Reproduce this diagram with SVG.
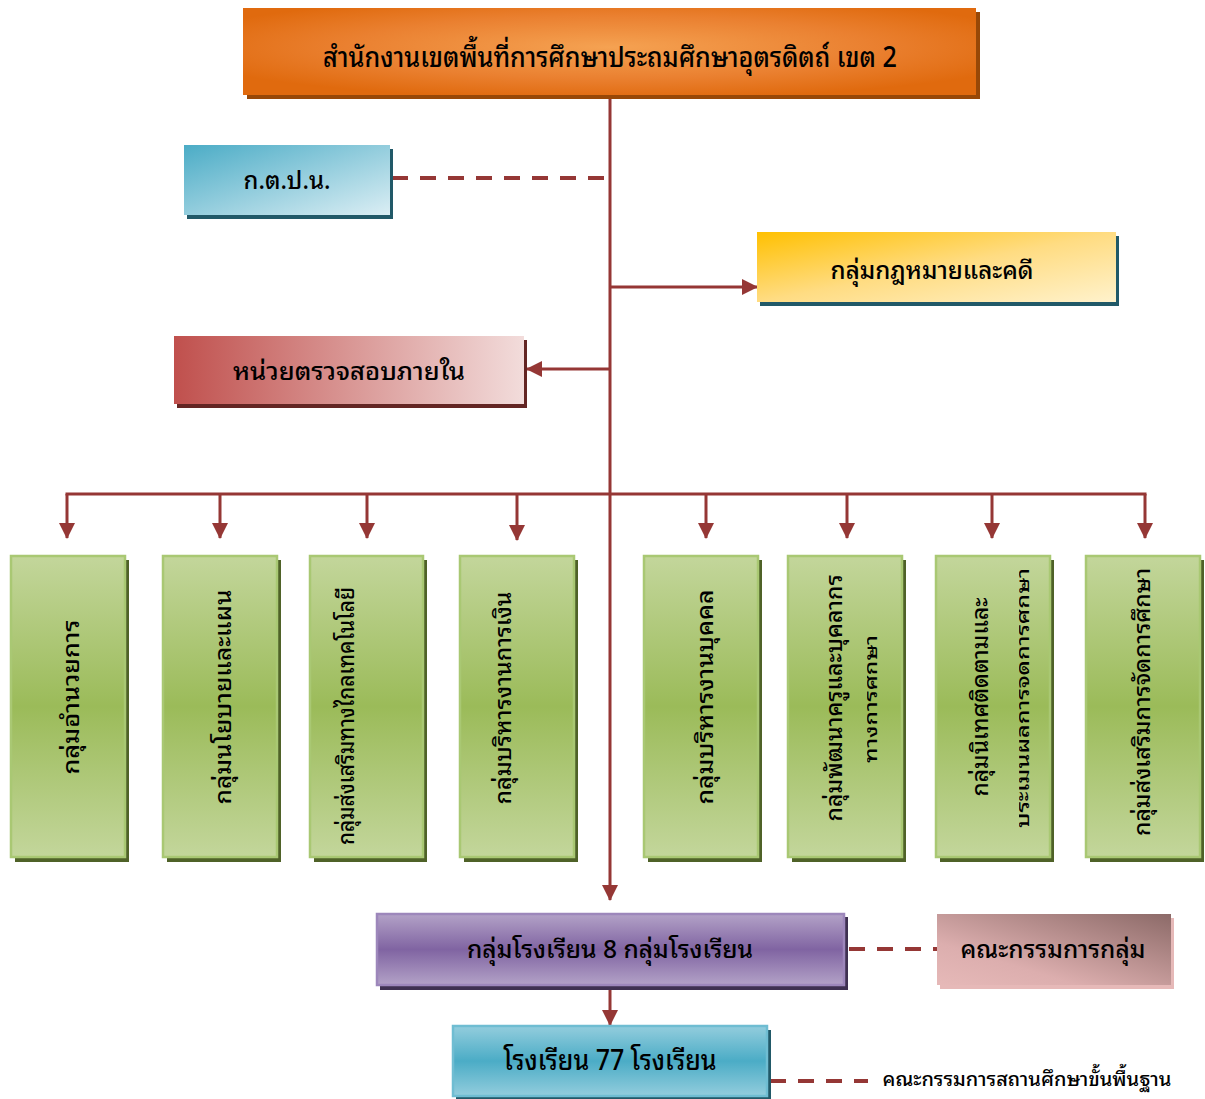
<svg xmlns="http://www.w3.org/2000/svg" width="1205" height="1099" viewBox="0 0 1205 1099">
<defs>
<radialGradient id="gOrange" cx="50%" cy="45%" r="60%" fx="50%" fy="45%">
<stop offset="0" stop-color="#f5a252"/><stop offset="0.6" stop-color="#ea8030"/><stop offset="1" stop-color="#e06a0e"/>
</radialGradient>
<linearGradient id="gTeal" x1="0" y1="0" x2="1" y2="1"><stop offset="0" stop-color="#4bacc6"/><stop offset="1" stop-color="#dbeef4"/></linearGradient>
<linearGradient id="gGold" x1="0" y1="0" x2="1" y2="1"><stop offset="0" stop-color="#ffc000"/><stop offset="0.5" stop-color="#ffdc82"/><stop offset="1" stop-color="#fff2cc"/></linearGradient>
<linearGradient id="gRed" x1="0" y1="0" x2="1" y2="0"><stop offset="0" stop-color="#c0504d"/><stop offset="1" stop-color="#f2dcdb"/></linearGradient>
<linearGradient id="gGreen" x1="0" y1="0" x2="0" y2="1"><stop offset="0" stop-color="#c3d69b"/><stop offset="0.5" stop-color="#9bbb59"/><stop offset="1" stop-color="#c3d69b"/></linearGradient>
<linearGradient id="gPurple" x1="0" y1="0" x2="0" y2="1"><stop offset="0" stop-color="#b3a2c7"/><stop offset="0.5" stop-color="#8064a2"/><stop offset="1" stop-color="#b3a2c7"/></linearGradient>
<linearGradient id="gBlue" x1="0" y1="0" x2="0" y2="1"><stop offset="0" stop-color="#93cddd"/><stop offset="0.5" stop-color="#4bacc6"/><stop offset="1" stop-color="#93cddd"/></linearGradient>
<linearGradient id="gPink" x1="1" y1="0" x2="0" y2="1"><stop offset="0" stop-color="#8c6a68"/><stop offset="0.7" stop-color="#dcaeae"/><stop offset="1" stop-color="#e6b9b8"/></linearGradient>
<marker id="ah" markerUnits="userSpaceOnUse" markerWidth="16" markerHeight="16" viewBox="0 0 16 16" refX="15" refY="8" orient="auto">
<path d="M0,0 L16,8 L0,16 Z" fill="#953735"/>
</marker>
<clipPath id="c6"><rect x="867" y="560" width="30" height="290"/></clipPath>
<clipPath id="c7"><rect x="1019" y="560" width="28" height="290"/></clipPath>
</defs>
<style>
text{font-family:"Noto Sans Thai Looped","Loma","Tahoma","Noto Sans Thai","Noto Sans","DejaVu Sans",sans-serif;font-weight:500;fill:#000;text-anchor:middle}
.t{font-size:25px}
.v{font-size:22px}
.vs{font-size:17px}
.ln{stroke:#953735;stroke-width:3;fill:none}
.ds{stroke:#953735;stroke-width:4;fill:none;stroke-dasharray:16 12}
.gb{fill:url(#gGreen);stroke:#a9c873;stroke-width:2.5}
.gs{fill:#4f6228}
</style>

<g id="connectors">
<line class="ln" x1="610" y1="97" x2="610" y2="900" marker-end="url(#ah)"/>
<line class="ln" x1="610" y1="287" x2="757" y2="287" marker-end="url(#ah)"/>
<line class="ln" x1="610" y1="369" x2="527" y2="369" marker-end="url(#ah)"/>
<line class="ds" x1="392" y1="178" x2="606" y2="178"/>
<line class="ln" x1="65.5" y1="494" x2="1146.5" y2="494"/>
<line class="ln" x1="67" y1="494" x2="67" y2="538" marker-end="url(#ah)"/>
<line class="ln" x1="220" y1="494" x2="220" y2="538" marker-end="url(#ah)"/>
<line class="ln" x1="367" y1="494" x2="367" y2="538" marker-end="url(#ah)"/>
<line class="ln" x1="517" y1="494" x2="517" y2="540" marker-end="url(#ah)"/>
<line class="ln" x1="706" y1="494" x2="706" y2="538" marker-end="url(#ah)"/>
<line class="ln" x1="847" y1="494" x2="847" y2="538" marker-end="url(#ah)"/>
<line class="ln" x1="992" y1="494" x2="992" y2="538" marker-end="url(#ah)"/>
<line class="ln" x1="1145" y1="494" x2="1145" y2="538" marker-end="url(#ah)"/>
<line class="ln" x1="610" y1="987" x2="610" y2="1025" marker-end="url(#ah)"/>
<line class="ds" x1="849" y1="949" x2="937" y2="949"/>
<line class="ds" x1="770" y1="1081" x2="868" y2="1081"/>
</g>

<g id="office">
<rect x="247" y="12" width="733" height="87" fill="#984807"/>
<rect x="243" y="8" width="733" height="87" fill="url(#gOrange)"/>
<text x="610" y="67" textLength="574" lengthAdjust="spacingAndGlyphs" style="font-size:28px">สำนักงานเขตพื้นที่การศึกษาประถมศึกษาอุตรดิตถ์ เขต 2</text>
</g>

<g id="ktpn">
<rect x="187" y="149" width="206" height="70" fill="#215968"/>
<rect x="184" y="145" width="206" height="70" fill="url(#gTeal)"/>
<text class="t" x="287" y="189" textLength="87" lengthAdjust="spacingAndGlyphs">ก.ต.ป.น.</text>
</g>

<g id="legal">
<rect x="760" y="236" width="359" height="70" fill="#215968"/>
<rect x="757" y="232" width="359" height="70" fill="url(#gGold)"/>
<text class="t" x="932" y="279" textLength="203" lengthAdjust="spacingAndGlyphs">กลุ่มกฎหมายและคดี</text>
</g>

<g id="audit">
<rect x="177" y="340" width="350" height="68" fill="#632523"/>
<rect x="174" y="336" width="350" height="68" fill="url(#gRed)"/>
<text class="t" x="349" y="380" textLength="232" lengthAdjust="spacingAndGlyphs">หน่วยตรวจสอบภายใน</text>
</g>

<g id="g1"><rect class="gs" x="15" y="560" width="114" height="302"/><rect class="gb" x="11" y="556" width="114" height="301"/>
<text class="v" transform="translate(73,697) rotate(-90)" y="6" textLength="155" lengthAdjust="spacingAndGlyphs">กลุ่มอำนวยการ</text></g>
<g id="g2"><rect class="gs" x="167" y="560" width="114" height="302"/><rect class="gb" x="163" y="556" width="114" height="301"/>
<text class="v" transform="translate(225,697) rotate(-90)" y="6" textLength="215" lengthAdjust="spacingAndGlyphs">กลุ่มนโยบายและแผน</text></g>
<g id="g3"><rect class="gs" x="314" y="560" width="113" height="302"/><rect class="gb" x="310" y="556" width="113" height="301"/>
<text class="v" transform="translate(348,716) rotate(-90)" y="6" textLength="258" lengthAdjust="spacingAndGlyphs">กลุ่มส่งเสริมทางไกลเทคโนโลยี</text></g>
<g id="g4"><rect class="gs" x="464" y="560" width="114" height="302"/><rect class="gb" x="460" y="556" width="114" height="301"/>
<text class="v" transform="translate(505,698) rotate(-90)" y="6" textLength="213" lengthAdjust="spacingAndGlyphs">กลุ่มบริหารงานการเงิน</text></g>
<g id="g5"><rect class="gs" x="648" y="560" width="114" height="302"/><rect class="gb" x="644" y="556" width="114" height="301"/>
<text class="v" transform="translate(707,697) rotate(-90)" y="6" textLength="215" lengthAdjust="spacingAndGlyphs">กลุ่มบริหารงานบุคคล</text></g>
<g id="g6"><rect class="gs" x="792" y="560" width="114" height="302"/><rect class="gb" x="788" y="556" width="114" height="301"/>
<text class="v" transform="translate(836,698) rotate(-90)" y="6" textLength="247" lengthAdjust="spacingAndGlyphs">กลุ่มพัฒนาครูและบุคลากร</text>
<g clip-path="url(#c6)"><text class="vs" transform="translate(872,699) rotate(-90)" y="5" textLength="128" lengthAdjust="spacingAndGlyphs">ทางการศึกษา</text></g></g>
<g id="g7"><rect class="gs" x="940" y="560" width="114" height="302"/><rect class="gb" x="936" y="556" width="114" height="301"/>
<text class="v" transform="translate(982,697) rotate(-90)" y="6" textLength="199" lengthAdjust="spacingAndGlyphs">กลุ่มนิเทศติดตามและ</text>
<g clip-path="url(#c7)"><text class="vs" transform="translate(1024,698) rotate(-90)" y="5" textLength="260" lengthAdjust="spacingAndGlyphs">ประเมินผลการจัดการศึกษา</text></g></g>
<g id="g8"><rect class="gs" x="1090" y="560" width="114" height="302"/><rect class="gb" x="1086" y="556" width="114" height="301"/>
<text class="v" transform="translate(1144,702) rotate(-90)" y="6" textLength="268" lengthAdjust="spacingAndGlyphs">กลุ่มส่งเสริมการจัดการศึกษา</text></g>

<g id="clusters">
<rect x="380" y="917" width="468" height="73" fill="#3f3151"/>
<rect x="377" y="914" width="467" height="71" fill="url(#gPurple)" stroke="#9d87bb" stroke-width="2.5"/>
<text class="t" x="610" y="958" textLength="286" lengthAdjust="spacingAndGlyphs">กลุ่มโรงเรียน 8 กลุ่มโรงเรียน</text>
</g>

<g id="committee">
<rect x="940" y="918" width="234" height="71" fill="#e6b9b8"/>
<rect x="937" y="914" width="234" height="71" fill="url(#gPink)"/>
<text class="t" x="1053" y="958" textLength="185" lengthAdjust="spacingAndGlyphs">คณะกรรมการกลุ่ม</text>
</g>

<g id="schools">
<rect x="456" y="1030" width="315" height="70" fill="#215968"/>
<rect x="453" y="1026" width="314" height="70" fill="url(#gBlue)" stroke="#6fbdd2" stroke-width="2.5"/>
<text x="610" y="1070" textLength="213" lengthAdjust="spacingAndGlyphs" style="font-size:28px">โรงเรียน 77 โรงเรียน</text>
</g>

<g id="basic-committee">
<text x="1027" y="1086" textLength="289" lengthAdjust="spacingAndGlyphs" style="font-size:20px">คณะกรรมการสถานศึกษาขั้นพื้นฐาน</text>
</g>
</svg>
